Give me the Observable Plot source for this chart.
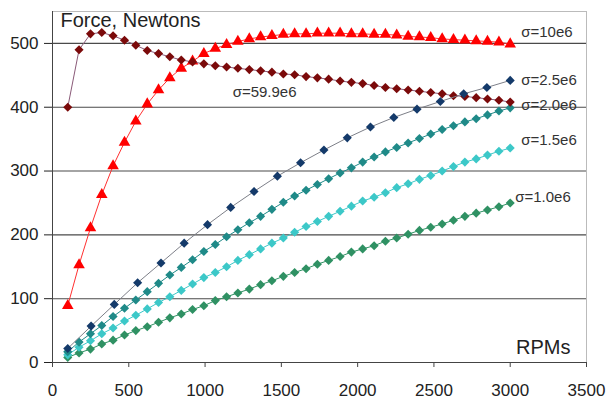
<!DOCTYPE html>
<html>
<head>
<meta charset="utf-8">
<script src="https://cdn.jsdelivr.net/npm/d3@7"></script>
<script src="https://cdn.jsdelivr.net/npm/@observablehq/plot@0.6"></script>
<style>
  html, body { margin: 0; padding: 0; background: #fff; }
  #chart { width: 606px; height: 399px; }
  svg { font-family: "Liberation Sans", Arial, sans-serif; }
</style>
</head>
<body>
<div id="chart"></div>
<script>
// RPM values for the dense (40-point) series
const rpm40 = [100, 174, 249, 323, 397, 472, 546, 621, 695, 769, 844, 918, 992, 1067, 1141, 1215, 1290, 1364, 1438, 1513,
               1587, 1662, 1736, 1810, 1885, 1959, 2033, 2108, 2182, 2256, 2331, 2405, 2479, 2554, 2628, 2703, 2777, 2851, 2926, 3000];
// RPM values for the sparse (20-point) series
const rpm20 = [100, 253, 405, 558, 711, 863, 1016, 1168, 1321, 1474, 1626, 1779, 1932, 2084, 2237, 2389, 2542, 2695, 2847, 3000];

// Force, Newtons
const s10e6   = [89, 153, 211, 263, 308, 345, 378, 405, 427, 446, 461, 472, 484, 492, 498, 503, 507, 510, 512, 514,
                 515, 515, 516, 516, 516, 515, 515, 514, 514, 513, 511, 510, 509, 507, 506, 505, 504, 503, 502, 499];
const s59_9e6 = [400, 490, 515, 517, 512, 505, 497, 489, 484, 479, 474, 471, 468, 465, 463, 461, 459, 457, 455, 452,
                 451, 448, 446, 444, 441, 439, 437, 434, 431, 429, 427, 425, 423, 421, 418, 417, 415, 413, 411, 408];
const s2_5e6  = [22, 57, 91, 125, 156, 187, 216, 243, 268, 292, 313, 333, 352, 369, 384, 397, 409, 421, 431, 442];
const s2_0e6  = [17, 32, 45, 58, 72, 85, 98, 111, 124, 137, 149, 161, 174, 185, 197, 208, 219, 229, 240, 251,
                 261, 270, 279, 288, 297, 305, 314, 322, 330, 337, 344, 351, 358, 365, 371, 377, 382, 388, 394, 399];
const s1_5e6  = [12, 24, 34, 45, 54, 65, 74, 84, 94, 103, 113, 123, 133, 141, 150, 160, 169, 178, 187, 195,
                 204, 213, 221, 229, 237, 245, 253, 259, 266, 274, 280, 287, 293, 300, 307, 314, 319, 325, 331, 336];
const s1_0e6  = [8, 15, 21, 29, 35, 43, 50, 56, 63, 70, 76, 83, 89, 97, 103, 109, 115, 122, 128, 135,
                 141, 147, 154, 160, 166, 173, 178, 183, 190, 195, 201, 207, 212, 217, 223, 229, 234, 239, 244, 250];

const xTicks = [0, 500, 1000, 1500, 2000, 2500, 3000, 3500];
const yTicks = [0, 100, 200, 300, 400, 500];
const gridY = [100, 200, 300, 400, 500];

const mk = (xs, ys) => xs.map((x, i) => ({x, y: ys[i]}));
const d10 = mk(rpm40, s10e6);
const d59 = mk(rpm40, s59_9e6);
const d25 = mk(rpm20, s2_5e6);
const d20 = mk(rpm40, s2_0e6);
const d15 = mk(rpm40, s1_5e6);
const d10b = mk(rpm40, s1_0e6);

const colors = {
  red: "#ff0000", maroon: "#7b0a0a", navy: "#143a6a", teal: "#1f8a88", cyan: "#3cc8c8", green: "#2f9163"
};

const last = d => [d[d.length - 1]];
const lblStyle = {fontSize: 15, fill: "#333", textAnchor: "start"};
const R = 4.1;

const chart = Plot.plot({
  width: 606,
  height: 399,
  marginLeft: 52,
  marginRight: 20,
  marginTop: 11,
  marginBottom: 37,
  style: {fontFamily: "'Liberation Sans', Arial, sans-serif", background: "#fff", overflow: "visible"},
  x: {domain: [0, 3500], ticks: xTicks},
  y: {domain: [0, 550], ticks: yTicks},
  marks: [
    Plot.frame({stroke: "#bbbbbb"}),
    Plot.ruleY(gridY, {stroke: "#4a4a4a", strokeWidth: 1.1}),
    Plot.axisX({ticks: xTicks, tickSize: 5, tickPadding: 16, fontSize: 17, label: null, tickFormat: d => String(d), stroke: "#444", color: "#222"}),
    Plot.axisY({ticks: yTicks, tickSize: 8, tickPadding: 6, fontSize: 17, label: null, tickFormat: d => String(d), color: "#222"}),
    Plot.ruleX([0], {stroke: "#444"}),
    Plot.ruleY([0], {stroke: "#444"}),

    Plot.line(d10b, {x: "x", y: "y", stroke: colors.green, strokeWidth: 1}),
    Plot.dot(d10b, {x: "x", y: "y", symbol: "diamond2", r: R, fill: colors.green, stroke: "none"}),
    Plot.line(d15, {x: "x", y: "y", stroke: colors.cyan, strokeWidth: 1}),
    Plot.dot(d15, {x: "x", y: "y", symbol: "diamond2", r: R, fill: colors.cyan, stroke: "none"}),
    Plot.line(d20, {x: "x", y: "y", stroke: colors.teal, strokeWidth: 1}),
    Plot.dot(d20, {x: "x", y: "y", symbol: "diamond2", r: R, fill: colors.teal, stroke: "none"}),

    Plot.line(d10, {x: "x", y: "y", stroke: "#ff3030", strokeWidth: 1}),
    Plot.dot(d10, {x: "x", y: "y", symbol: "triangle", r: 4.3, fill: colors.red, stroke: "none"}),

    Plot.line(d59, {x: "x", y: "y", stroke: "#8a5a78", strokeWidth: 1}),
    Plot.dot(d59, {x: "x", y: "y", symbol: "diamond2", r: R, fill: colors.maroon, stroke: "none"}),

    Plot.line(d25, {x: "x", y: "y", stroke: "#7d7f88", strokeWidth: 1}),
    Plot.dot(d25, {x: "x", y: "y", symbol: "diamond2", r: R, fill: colors.navy, stroke: "none"}),

    // series labels anchored to the data
    Plot.text(last(d10), {x: "x", y: "y", text: () => "σ=10e6", dx: 11, dy: -12, ...lblStyle}),
    Plot.text(last(d25), {x: "x", y: "y", text: () => "σ=2.5e6", dx: 11, dy: 0, ...lblStyle}),
    Plot.text(last(d20), {x: "x", y: "y", text: () => "σ=2.0e6", dx: 11, dy: -3, ...lblStyle}),
    Plot.text(last(d15), {x: "x", y: "y", text: () => "σ=1.5e6", dx: 11, dy: -8, ...lblStyle}),
    Plot.text(last(d10b), {x: "x", y: "y", text: () => "σ=1.0e6", dx: 5, dy: -6, ...lblStyle}),
    Plot.text([d59[17]], {x: "x", y: "y", text: () => "σ=59.9e6", dx: 4, dy: 21, fontSize: 15, fill: "#333", textAnchor: "middle"}),

    Plot.text(["Force, Newtons"], {frameAnchor: "top-left", dx: 8, dy: 1, fontSize: 20, fill: "#222", lineAnchor: "top"}),
    Plot.text(["RPMs"], {frameAnchor: "bottom-right", dx: -16, dy: -9, fontSize: 20, fill: "#222", lineAnchor: "bottom"})
  ]
});
document.getElementById("chart").appendChild(chart);
</script>
</body>
</html>
